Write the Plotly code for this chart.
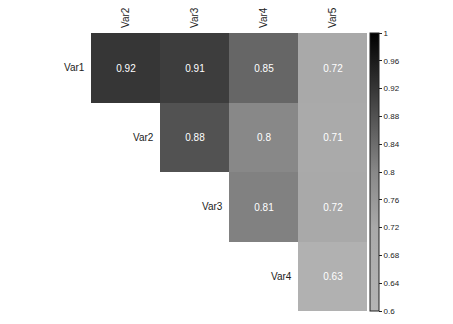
import plotly.graph_objects as go

cols = ["Var2", "Var3", "Var4", "Var5"]
rows = ["Var1", "Var2", "Var3", "Var4"]
corr = [
    [0.92, 0.91, 0.85, 0.72],
    [None, 0.88, 0.80, 0.71],
    [None, None, 0.81, 0.72],
    [None, None, None, 0.63],
]
bar_ticks = [0.6, 0.64, 0.68, 0.72, 0.76, 0.8, 0.84, 0.88, 0.92, 0.96, 1]
bar_labels = ["0.6", "0.64", "0.68", "0.72", "0.76", "0.8", "0.84", "0.88", "0.92", "0.96", "1"]

FONT = "Liberation Sans, Arial, sans-serif"

gray_scale = [
    [0.0, "#b4b4b4"],
    [0.3, "#a9a9a9"],
    [0.5, "#888888"],
    [0.7, "#525252"],
    [0.8, "#363636"],
    [1.0, "#000000"],
]

text = [[("" if v is None else f"{v:g}") for v in r] for r in corr]

fig = go.Figure(
    go.Heatmap(
        z=corr,
        x=list(range(len(cols))),
        y=list(range(len(rows))),
        text=text,
        texttemplate="%{text}",
        textfont=dict(color="white", size=10, family=FONT),
        colorscale=gray_scale,
        zmin=0.6,
        zmax=1,
        hoverongaps=False,
        colorbar=dict(
            x=1.012,
            xanchor="left",
            xpad=0,
            ypad=0,
            y=0.5,
            len=1.0,
            thickness=9,
            outlinewidth=1,
            outlinecolor="#222222",
            tickvals=bar_ticks,
            ticktext=bar_labels,
            ticks="outside",
            ticklen=3,
            tickcolor="#222222",
            tickfont=dict(size=8, family=FONT, color="#222222"),
        ),
    )
)

for i, name in enumerate(rows):
    fig.add_annotation(
        x=i - 0.5,
        y=i,
        text=name,
        showarrow=False,
        xanchor="right",
        xshift=-4,
        font=dict(size=10, family=FONT, color="#222222"),
    )

fig.update_xaxes(
    side="top",
    tickvals=list(range(len(cols))),
    ticktext=cols,
    tickangle=-90,
    tickfont=dict(size=10, family=FONT, color="#222222"),
    ticklabelstandoff=4,
    automargin=False,
    showgrid=False,
    zeroline=False,
    showline=False,
    ticks="",
    range=[-0.5, len(cols) - 0.5],
)
fig.update_yaxes(
    autorange="reversed",
    visible=False,
    showgrid=False,
    zeroline=False,
    automargin=False,
)
fig.update_layout(
    width=453,
    height=324,
    margin=dict(l=83, r=94, t=25, b=21),
    paper_bgcolor="white",
    plot_bgcolor="white",
    font=dict(family=FONT),
)

fig.write_html("out.html")
